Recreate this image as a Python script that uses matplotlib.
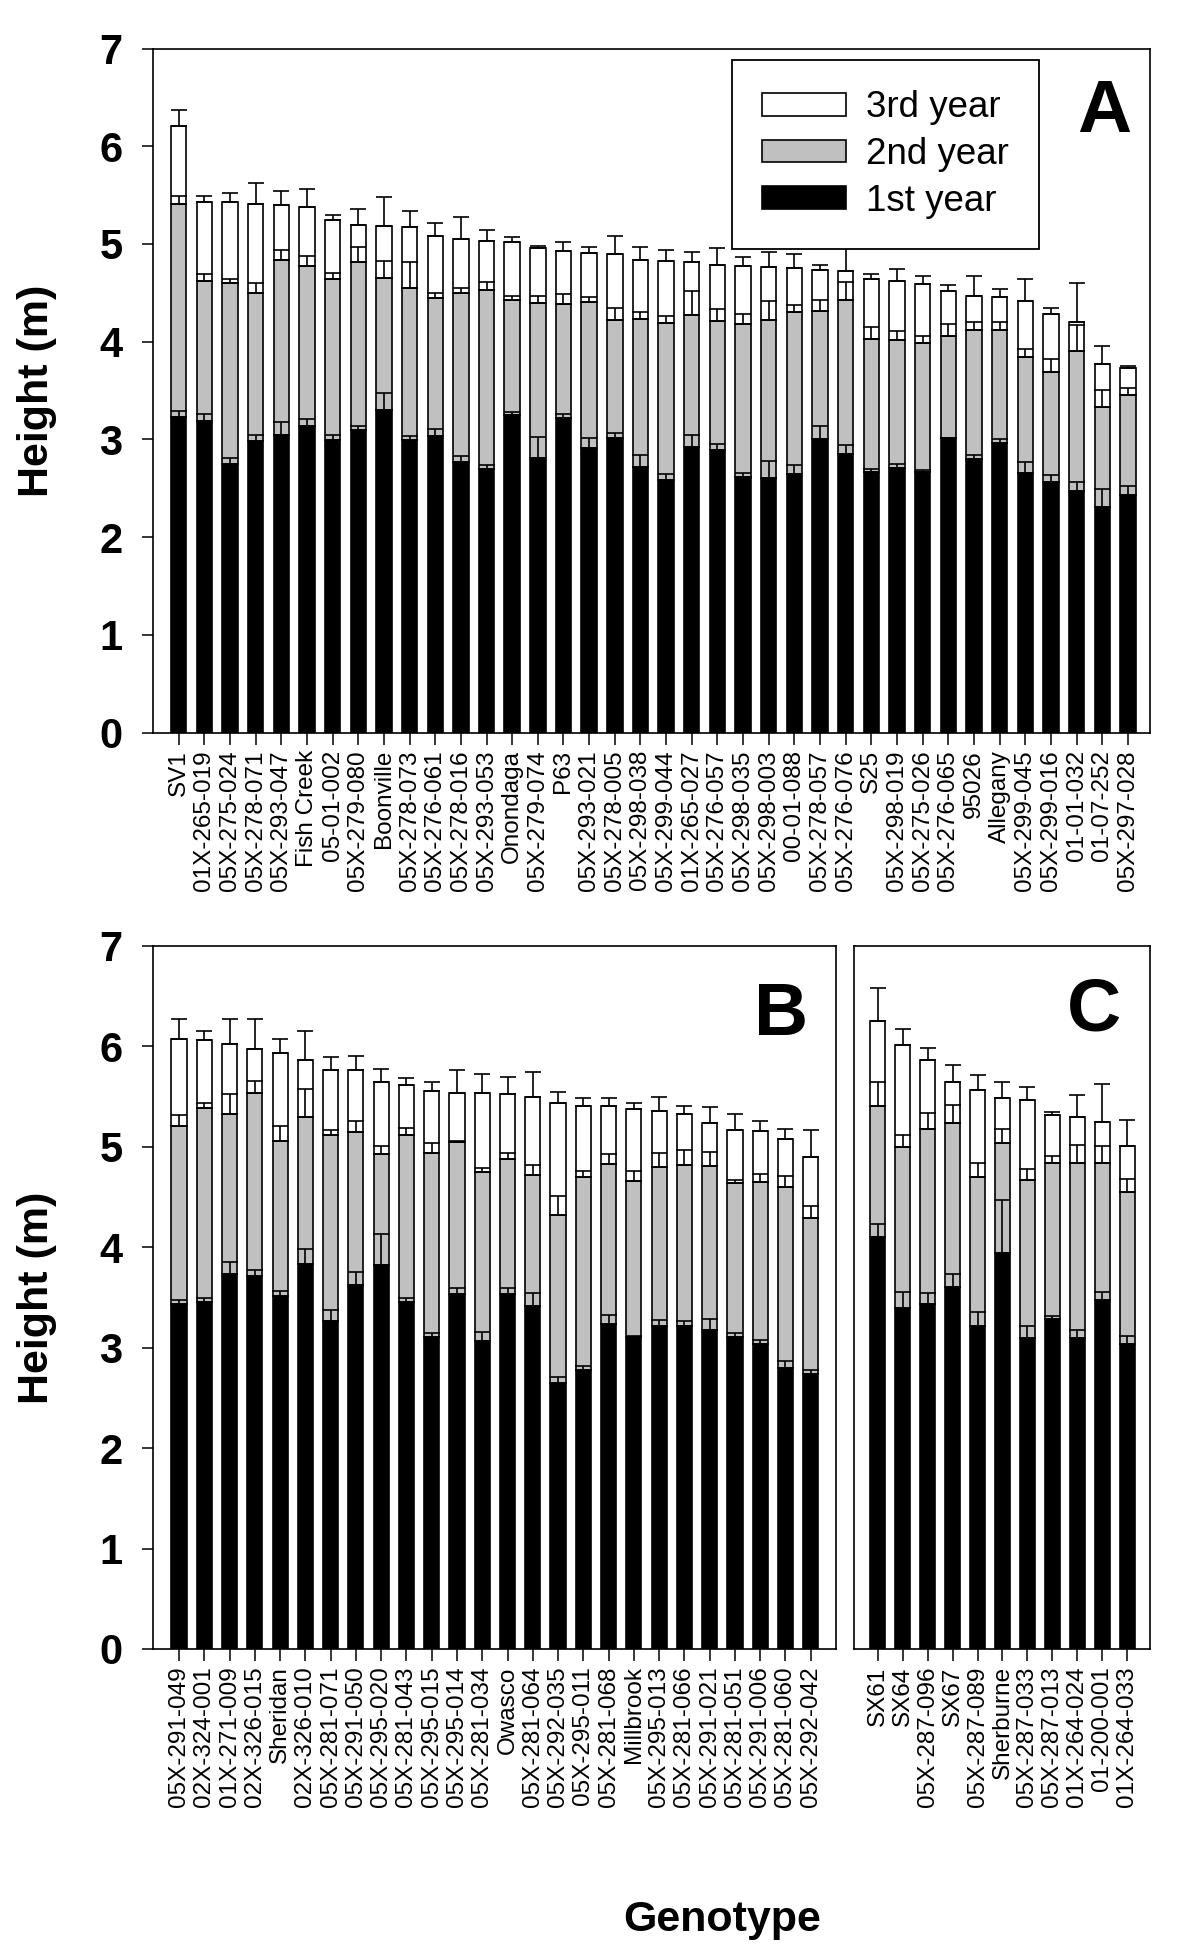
import matplotlib
matplotlib.use('Agg')
import matplotlib.pyplot as plt
import numpy as np

plt.rcParams['font.family'] = ['Liberation Sans', 'DejaVu Sans']

# ---- panel A: height (m) at end of each year, cumulative, with SE ----
labels_a = ['SV1', '01X-265-019', '05X-275-024', '05X-278-071', '05X-293-047', 'Fish Creek',
            '05-01-002', '05X-279-080', 'Boonville', '05X-278-073', '05X-276-061', '05X-278-016',
            '05X-293-053', 'Onondaga', '05X-279-074', 'P63', '05X-293-021', '05X-278-005',
            '05X-298-038', '05X-299-044', '01X-265-027', '05X-276-057', '05X-298-035', '05X-298-003',
            '00-01-088', '05X-278-057', '05X-276-076', 'S25', '05X-298-019', '05X-275-026',
            '05X-276-065', '95026', 'Allegany', '05X-299-045', '05X-299-016', '01-01-032',
            '01-07-252', '05X-297-028']
yr1_a = [3.23, 3.19, 2.75, 2.98, 3.05, 3.14, 2.99, 3.10, 3.30, 2.99, 3.04, 2.77, 2.70, 3.25, 2.81,
         3.22, 2.91, 3.02, 2.72, 2.59, 2.92, 2.89, 2.62, 2.61, 2.65, 3.00, 2.85, 2.67, 2.71, 2.67,
         3.01, 2.80, 2.96, 2.66, 2.56, 2.47, 2.31, 2.43]
se1_a = [0.06, 0.07, 0.06, 0.07, 0.13, 0.07, 0.06, 0.04, 0.18, 0.05, 0.07, 0.06, 0.04, 0.03, 0.22,
         0.04, 0.10, 0.05, 0.12, 0.06, 0.13, 0.06, 0.04, 0.17, 0.09, 0.14, 0.09, 0.03, 0.04, 0.02,
         0.01, 0.04, 0.04, 0.11, 0.08, 0.09, 0.18, 0.09]
yr2_a = [5.41, 4.62, 4.60, 4.50, 4.84, 4.77, 4.64, 4.82, 4.65, 4.55, 4.45, 4.50, 4.53, 4.43, 4.40,
         4.39, 4.41, 4.22, 4.23, 4.19, 4.27, 4.21, 4.18, 4.22, 4.30, 4.31, 4.43, 4.03, 4.02, 3.99,
         4.06, 4.12, 4.12, 3.84, 3.69, 3.91, 3.33, 3.46]
se2_a = [0.08, 0.07, 0.04, 0.10, 0.10, 0.11, 0.06, 0.15, 0.18, 0.27, 0.05, 0.05, 0.08, 0.04, 0.07,
         0.10, 0.05, 0.12, 0.07, 0.07, 0.25, 0.12, 0.10, 0.20, 0.08, 0.12, 0.18, 0.12, 0.09, 0.07,
         0.12, 0.08, 0.08, 0.09, 0.13, 0.26, 0.18, 0.07]
yr3_a = [6.21, 5.43, 5.43, 5.41, 5.40, 5.38, 5.25, 5.19, 5.18, 5.17, 5.08, 5.05, 5.03, 5.02, 4.96,
         4.93, 4.91, 4.90, 4.84, 4.83, 4.82, 4.78, 4.77, 4.76, 4.75, 4.73, 4.72, 4.64, 4.62, 4.59,
         4.52, 4.47, 4.46, 4.42, 4.28, 4.20, 3.77, 3.73]
se3_a = [0.16, 0.06, 0.09, 0.21, 0.14, 0.18, 0.05, 0.17, 0.30, 0.17, 0.13, 0.23, 0.11, 0.05, 0.02,
         0.09, 0.06, 0.18, 0.13, 0.11, 0.10, 0.18, 0.10, 0.16, 0.15, 0.06, 0.28, 0.05, 0.12, 0.08,
         0.06, 0.20, 0.08, 0.22, 0.06, 0.40, 0.19, 0.02]

# ---- panel B ----
labels_b = ['05X-291-049', '02X-324-001', '01X-271-009', '02X-326-015', 'Sheridan', '02X-326-010',
            '05X-281-071', '05X-291-050', '05X-295-020', '05X-281-043', '05X-295-015', '05X-295-014',
            '05X-281-034', 'Owasco', '05X-281-064', '05X-292-035', '05X-295-011', '05X-281-068',
            'Millbrook', '05X-295-013', '05X-281-066', '05X-291-021', '05X-281-051', '05X-291-006',
            '05X-281-060', '05X-292-042']
yr1_b = [3.44, 3.46, 3.73, 3.71, 3.51, 3.83, 3.27, 3.62, 3.82, 3.46, 3.11, 3.53, 3.07, 3.53, 3.42,
         2.65, 2.78, 3.24, 3.11, 3.22, 3.22, 3.18, 3.11, 3.04, 2.80, 2.74]
se1_b = [0.04, 0.04, 0.12, 0.06, 0.05, 0.15, 0.11, 0.13, 0.31, 0.04, 0.04, 0.06, 0.09, 0.06, 0.12,
         0.06, 0.04, 0.09, 0.01, 0.06, 0.05, 0.11, 0.04, 0.04, 0.07, 0.04]
yr2_b = [5.21, 5.39, 5.33, 5.54, 5.06, 5.30, 5.12, 5.15, 4.93, 5.12, 4.94, 5.05, 4.75, 4.88, 4.72,
         4.32, 4.70, 4.83, 4.66, 4.80, 4.82, 4.81, 4.64, 4.65, 4.60, 4.29]
se2_b = [0.11, 0.05, 0.20, 0.12, 0.15, 0.28, 0.05, 0.11, 0.08, 0.07, 0.10, 0.01, 0.04, 0.06, 0.10,
         0.19, 0.06, 0.10, 0.10, 0.14, 0.15, 0.14, 0.03, 0.08, 0.11, 0.12]
yr3_b = [6.07, 6.06, 6.02, 5.97, 5.93, 5.86, 5.77, 5.77, 5.65, 5.62, 5.56, 5.54, 5.54, 5.53, 5.50,
         5.44, 5.41, 5.41, 5.38, 5.36, 5.33, 5.24, 5.17, 5.16, 5.08, 4.90]
se3_b = [0.20, 0.09, 0.25, 0.30, 0.14, 0.29, 0.12, 0.13, 0.13, 0.07, 0.09, 0.23, 0.19, 0.17, 0.25,
         0.11, 0.08, 0.08, 0.06, 0.14, 0.08, 0.16, 0.16, 0.10, 0.10, 0.27]

# ---- panel C ----
labels_c = ['SX61', 'SX64', '05X-287-096', 'SX67', '05X-287-089', 'Sherburne', '05X-287-033',
            '05X-287-013', '01X-264-024', '01-200-001', '01X-264-033']
yr1_c = [4.10, 3.40, 3.44, 3.60, 3.22, 3.94, 3.10, 3.29, 3.10, 3.48, 3.04]
se1_c = [0.13, 0.15, 0.10, 0.13, 0.14, 0.53, 0.12, 0.03, 0.08, 0.07, 0.08]
yr2_c = [5.41, 5.00, 5.18, 5.24, 4.70, 5.04, 4.67, 4.84, 4.84, 4.84, 4.55]
se2_c = [0.24, 0.12, 0.16, 0.18, 0.14, 0.14, 0.11, 0.07, 0.18, 0.17, 0.13]
yr3_c = [6.25, 6.01, 5.86, 5.65, 5.57, 5.49, 5.47, 5.32, 5.30, 5.25, 5.01]
se3_c = [0.33, 0.16, 0.12, 0.17, 0.15, 0.16, 0.13, 0.03, 0.22, 0.38, 0.26]

year_names = ['1st year', '2nd year', '3rd year']
colors = ['black', '#c0c0c0', 'white']

W, H = 1200, 1953
fig = plt.figure(figsize=(W / 100, H / 100), dpi=100)


def px_axes(left, top, right, bottom):
    return fig.add_axes([left / W, 1 - bottom / H, (right - left) / W, (bottom - top) / H])


def draw_panel(ax, labels, tops, errs, xlim, letter, letter_xy, yticks=True):
    x = np.arange(len(labels))
    base = np.zeros(len(labels))
    bars = []
    for top, col, name in zip(tops, colors, year_names):
        top = np.array(top)
        bars.append(ax.bar(x, top - base, 0.6, bottom=base, color=col, edgecolor='black',
                           linewidth=1.2, label=name, zorder=2))
        base = top
    # SE bars only point upward from each segment top
    for top, err in zip(tops, errs):
        ax.errorbar(x, top, yerr=[np.zeros(len(x)), err], fmt='none', ecolor='black',
                    elinewidth=1.2, capsize=5.5, capthick=1.2, zorder=3)
    ax.set_xlim(*xlim)
    ax.set_ylim(0, 7)
    ax.set_xticks(x)
    ax.set_xticklabels(labels, rotation=90, fontsize=17.5)
    ax.tick_params(axis='x', direction='out', length=8.5, width=1.1, pad=4)
    if yticks:
        ax.set_yticks(range(8))
        ax.set_yticklabels([str(v) for v in range(8)], fontsize=30, fontweight='bold')
        ax.tick_params(axis='y', direction='out', length=8, width=1.1, pad=14)
    else:
        ax.set_yticks([])
    for sp in ax.spines.values():
        sp.set_linewidth(1.2)
    ax.text(letter_xy[0], letter_xy[1], letter, transform=ax.transAxes, fontsize=54,
            fontweight='bold', ha='right', va='baseline')
    return bars


ax_a = px_axes(153, 48.5, 1150, 732.7)
bars_a = draw_panel(ax_a, labels_a, [yr1_a, yr2_a, yr3_a], [se1_a, se2_a, se3_a],
                    (-1.0, 37.86), 'A', (0.981, 0.878))

ax_b = px_axes(153, 946, 836, 1649)
draw_panel(ax_b, labels_b, [yr1_b, yr2_b, yr3_b], [se1_b, se2_b, se3_b],
           (-1.03, 26.0), 'B', (0.959, 0.873))

ax_c = px_axes(854, 946, 1150, 1649)
draw_panel(ax_c, labels_c, [yr1_c, yr2_c, yr3_c], [se1_c, se2_c, se3_c],
           (-0.96, 10.92), 'C', (0.902, 0.880), yticks=False)

leg = ax_a.legend(bars_a[::-1], year_names[::-1], loc='upper left',
                  bbox_to_anchor=(732 / W, 1 - 60 / H), bbox_transform=fig.transFigure,
                  fontsize=26.5, handlelength=2.27, handleheight=0.57, handletextpad=0.54,
                  labelspacing=0.32, borderpad=0.82, borderaxespad=0, fancybox=False,
                  framealpha=1, edgecolor='black')
leg.get_frame().set_linewidth(1.3)
leg.set_zorder(5)

fig.text(37 / W, 1 - 390.6 / H, 'Height (m)', rotation=90, fontsize=31, fontweight='bold',
         ha='center', va='center')
fig.text(37 / W, 1 - 1297.5 / H, 'Height (m)', rotation=90, fontsize=31, fontweight='bold',
         ha='center', va='center')
fig.text(722.5 / W, 1 - 1931 / H, 'Genotype', fontsize=31, fontweight='bold',
         ha='center', va='baseline')

fig.savefig('out.png', dpi=100)
